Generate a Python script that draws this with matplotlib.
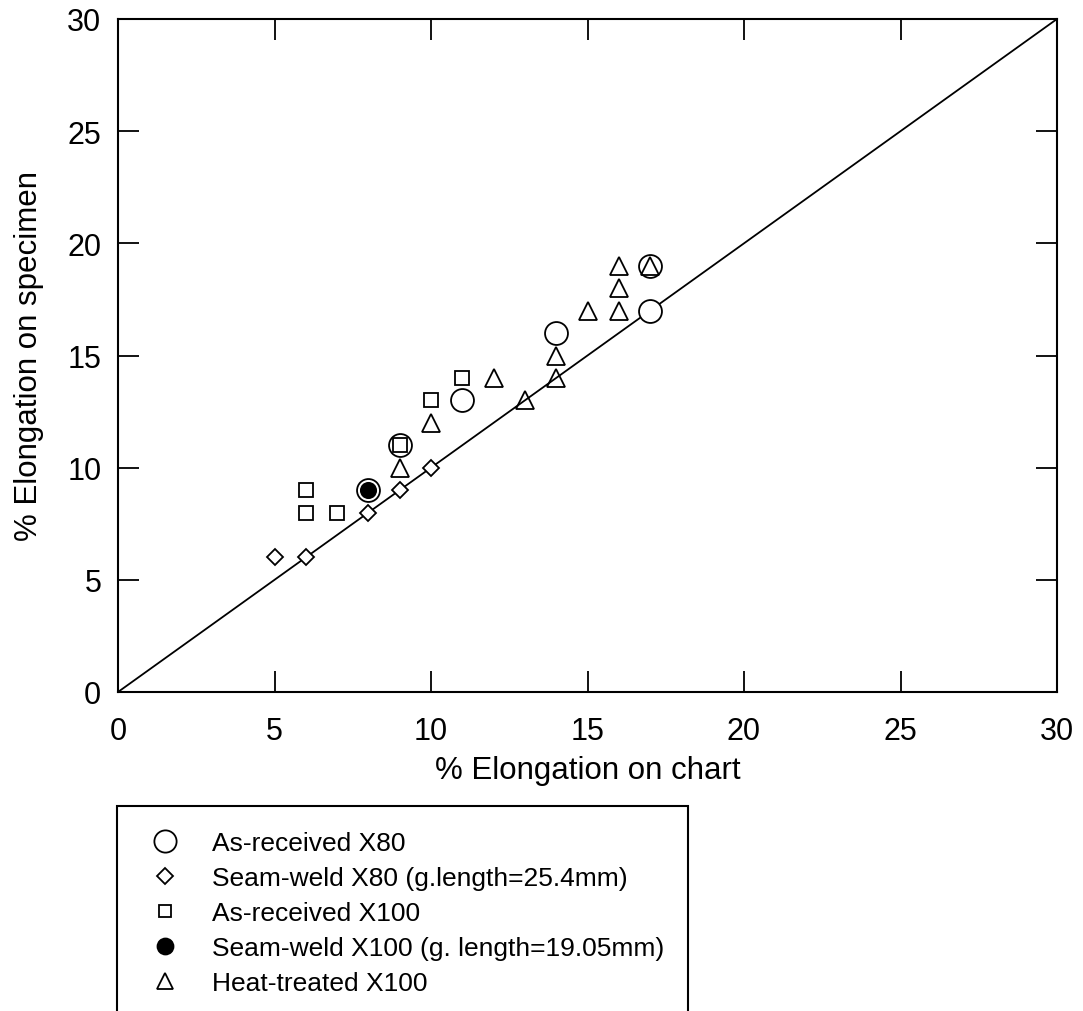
import matplotlib.pyplot as plt
from matplotlib.patches import Rectangle
from matplotlib.lines import Line2D

plt.rcParams['font.family'] = ['Liberation Sans', 'DejaVu Sans']

# data (x = elongation on chart, y = on specimen)
ar_x80_x = [8, 9, 11, 14, 17, 17]
ar_x80_y = [9, 11, 13, 16, 17, 19]

sw_x80_x = [5, 6, 8, 9, 10]
sw_x80_y = [6, 6, 8, 9, 10]

ar_x100_x = [6, 6, 7, 9, 10, 11]
ar_x100_y = [9, 8, 8, 11, 13, 14]

sw_x100_x = [8]
sw_x100_y = [9]

ht_x100_x = [9, 10, 12, 13, 14, 14, 15, 16, 16, 16, 17]
ht_x100_y = [10, 12, 14, 13, 15, 14, 17, 19, 18, 17, 19]

labels = ['As-received X80', 'Seam-weld X80 (g.length=25.4mm)', 'As-received X100',
          'Seam-weld X100 (g. length=19.05mm)', 'Heat-treated X100']

W, H = 1083, 1012
fig = plt.figure(figsize=(W / 100, H / 100), dpi=100)
ax = fig.add_axes([118 / W, 1 - 693 / H, (1057 - 118) / W, (693 - 20) / H])

# 1:1 line
ax.plot([0, 30], [0, 30], color='black', lw=1.3, zorder=1)

ew = 1.3
ax.plot(ar_x80_x, ar_x80_y, 'o', ms=16.5, mfc='white', mec='black', mew=ew, ls='none', zorder=2)
ax.plot(sw_x80_x, sw_x80_y, 'D', ms=8.5, mfc='white', mec='black', mew=ew, ls='none', zorder=3)
ax.plot(ar_x100_x, ar_x100_y, 's', ms=9.5, mfc='white', mec='black', mew=ew, ls='none', zorder=3)
ax.plot(sw_x100_x, sw_x100_y, 'o', ms=11, mfc='black', mec='black', mew=ew, ls='none', zorder=3)
ax.plot(ht_x100_x, ht_x100_y, '^', ms=13, mfc='none', mec='black', mew=ew, ls='none', zorder=4)

ax.set_xlim(0, 30)
ax.set_ylim(0, 30)
ax.set_xticks(range(0, 31, 5))
ax.set_yticks(range(0, 31, 5))
ax.tick_params(direction='in', length=15, width=1.3, top=True, right=True, labelsize=22)
ax.tick_params(axis='x', pad=17)
ax.tick_params(axis='y', pad=12)
for s in ax.spines.values():
    s.set_linewidth(1.5)
ax.set_xlabel('% Elongation on chart', fontsize=22.5, labelpad=7)
ax.set_ylabel('% Elongation on specimen', fontsize=22.5, labelpad=17)

# legend, box runs off the bottom of the picture
fig.patches.append(Rectangle((117 / W, -0.05), (688 - 117) / W, 0.05 + 1 - 807 / H,
                             transform=fig.transFigure, fill=False, ec='black', lw=1.5))
handles = [
    Line2D([], [], marker='o', ms=16, mfc='white', mec='black', mew=1.3, ls='none'),
    Line2D([], [], marker='D', ms=8.5, mfc='white', mec='black', mew=1.3, ls='none'),
    Line2D([], [], marker='s', ms=9, mfc='white', mec='black', mew=1.3, ls='none'),
    Line2D([], [], marker='o', ms=11.5, mfc='black', mec='black', mew=1.3, ls='none'),
    Line2D([], [], marker='^', ms=12, mfc='white', mec='black', mew=1.3, ls='none'),
]
fig.legend(handles, labels, loc='upper left', bbox_to_anchor=(145 / W, 1 - 832 / H),
           frameon=False, fontsize=19, handlelength=1.52, handletextpad=1.02,
           labelspacing=0.42, borderpad=0, borderaxespad=0)

fig.savefig('out.png', dpi=100)
